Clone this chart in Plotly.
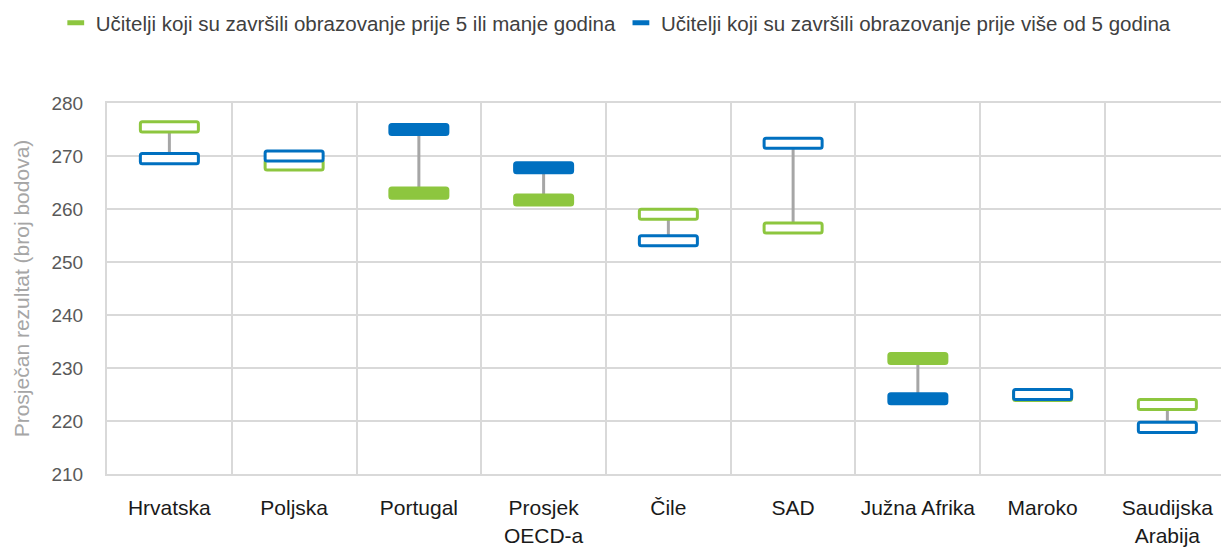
import plotly.graph_objects as go

categories = ["Hrvatska", "Poljska", "Portugal", "Prosjek<br>OECD-a", "Čile", "SAD",
              "Južna Afrika", "Maroko", "Saudijska<br>Arabija"]
recent = [275.5, 268.3, 263.0, 261.7, 259.0, 256.4, 231.8, 224.8, 223.1]   # <=5 years
older = [269.5, 270.0, 275.0, 267.8, 254.0, 272.4, 224.2, 225.0, 218.8]    # >5 years
significant = [False, False, True, True, False, False, True, False, False]

name_recent = "Učitelji koji su završili obrazovanje prije 5 ili manje godina"
name_older = "Učitelji koji su završili obrazovanje prije više od 5 godina"

GREEN = "#8dc63f"
BLUE = "#0070c0"
GRAY = "#a6a6a6"
GRID = "#d9d9d9"
BOX_H = 1.9
BOX_W = 0.465

fig = go.Figure()

low = [min(a, b) for a, b in zip(recent, older)]
span = [abs(a - b) for a, b in zip(recent, older)]
fig.add_trace(go.Bar(x=categories, y=span, base=low, width=0.024,
                     marker=dict(color=GRAY, line=dict(width=0)),
                     showlegend=False, hoverinfo="skip"))

for vals, col in [(recent, GREEN), (older, BLUE)]:
    fig.add_trace(go.Bar(
        x=categories, y=[BOX_H] * len(vals), base=[v - BOX_H / 2 for v in vals],
        width=BOX_W,
        marker=dict(color=[col if s else "white" for s in significant],
                    line=dict(color=col, width=3), cornerradius=2),
        showlegend=False))

for nm, col in [(name_recent, GREEN), (name_older, BLUE)]:
    fig.add_trace(go.Scatter(x=[None], y=[None], mode="markers", name=nm,
                             marker=dict(symbol="line-ew", size=12, color=col,
                                         line=dict(color=col, width=5))))

fig.update_layout(
    width=1221, height=547,
    margin=dict(l=107, r=0, t=103, b=73, autoexpand=False),
    paper_bgcolor="white", plot_bgcolor="white",
    barmode="overlay",
    font=dict(family="Liberation Sans, Arial, sans-serif"),
    legend=dict(orientation="h", x=-0.046, xanchor="left", y=1.216, yanchor="middle",
                font=dict(size=20.5, color="#404040"), itemwidth=30,
                tracegroupgap=0),
    xaxis=dict(type="category", range=[-0.5, 8.43], tickson="boundaries",
               showgrid=True, gridcolor=GRID, gridwidth=2,
               showline=True, linecolor=GRID, linewidth=2, mirror=True,
               ticks="", ticklabelstandoff=14, automargin=False,
               tickfont=dict(size=21, color="#1a1a1a")),
    yaxis=dict(range=[210, 280], dtick=10, tick0=210,
               showgrid=True, gridcolor=GRID, gridwidth=2,
               showline=True, linecolor=GRID, linewidth=2,
               zeroline=False, ticks="", ticklabelstandoff=18, automargin=False,
               tickfont=dict(size=19, color="#595959"),
               title=dict(text="Prosječan rezultat (broj bodova)", standoff=16,
                          font=dict(size=21, color="#a6a6a6"))),
)

fig.write_html("out.html",
               config={"displayModeBar": False},
               post_script="document.body.style.margin='0';"
                           "document.body.style.overflow='hidden';")
